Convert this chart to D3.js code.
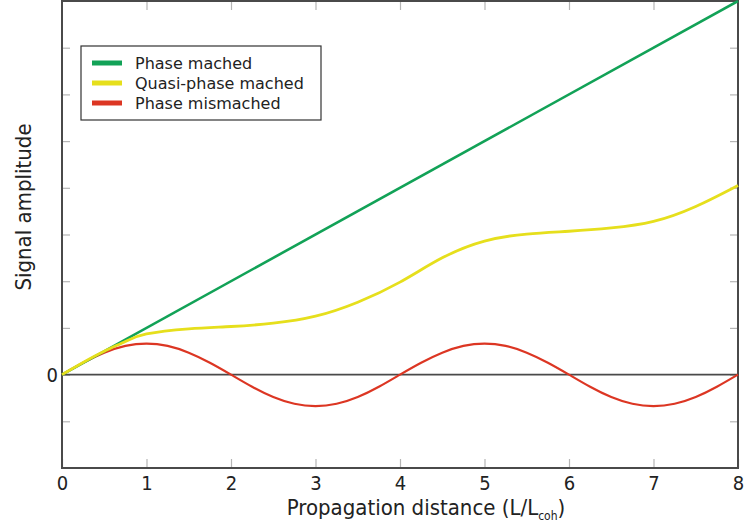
<!DOCTYPE html>
<html>
<head>
<meta charset="utf-8">
<script src="https://cdn.jsdelivr.net/npm/d3@7"></script>
<style>
  html, body { margin: 0; padding: 0; background: #fff; }
  svg { display: block; }
</style>
</head>
<body>
<svg id="chart" width="746" height="528"></svg>
<script>
// ---- data ----
const xTicks = [0, 1, 2, 3, 4, 5, 6, 7, 8];
const yTicks = [-1, 0, 1, 2, 3, 4, 5, 6, 7];
const yTickLabels = ["", "0", "", "", "", "", "", "", ""];
const seriesNames = ["Phase mached", "Quasi-phase mached", "Phase mismached"];

const greenX = [0, 8];
const greenY = [0, 8];

const yellowX = [0, 0.25, 0.5, 0.75, 1, 1.5, 2, 2.5, 3, 3.5, 4, 4.5, 5, 5.5, 6, 6.5, 7, 7.5, 8];
const yellowY = [0, 0.26, 0.5, 0.71, 0.87, 0.98, 1.03, 1.1, 1.25, 1.55, 1.98, 2.5, 2.86, 3.01, 3.07, 3.14, 3.28, 3.6, 4.05];

const redX = [0, 0.25, 0.5, 0.75, 1, 1.25, 1.5, 1.75, 2, 2.25, 2.5, 2.75, 3, 3.25, 3.5, 3.75, 4,
              4.25, 4.5, 4.75, 5, 5.25, 5.5, 5.75, 6, 6.25, 6.5, 6.75, 7, 7.25, 7.5, 7.75, 8];
const redY = [0, 0.255, 0.47, 0.615, 0.665, 0.615, 0.47, 0.255, 0, -0.26, -0.48, -0.625, -0.675, -0.625, -0.48, -0.26, 0,
              0.255, 0.47, 0.615, 0.665, 0.615, 0.47, 0.255, 0, -0.26, -0.48, -0.625, -0.675, -0.625, -0.48, -0.26, 0];

const colors = ["#12a257", "#e6df1c", "#dc3623"];

// ---- layout ----
const svg = d3.select("#chart");
const L = 62, R = 738, T = 1, B = 468;
const x = d3.scaleLinear().domain([0, 8]).range([L, R]);
const y = d3.scaleLinear().domain([-2, 8]).range([B, T]);
const condensed = '"DejaVu Sans Condensed", "DejaVu Sans", sans-serif';
const regular = '"DejaVu Sans", sans-serif';

// ticks (inward, light grey)
const tickCol = "#b5b5b5";
const gx = svg.append("g").attr("transform", `translate(0,${B})`)
  .call(d3.axisBottom(x).tickValues(xTicks).tickSizeInner(-9).tickSizeOuter(0).tickPadding(8).tickFormat(d3.format("d")));
gx.select(".domain").remove();
gx.selectAll(".tick line").attr("stroke", tickCol).attr("stroke-width", 1.2);
gx.selectAll(".tick text").style("font-size", "20px").style("fill", "#222").style("font-family", condensed);

const gxt = svg.append("g").attr("transform", `translate(0,${T})`)
  .call(d3.axisTop(x).tickValues(xTicks.slice(1, -1)).tickSizeInner(-9).tickSizeOuter(0).tickFormat(""));
gxt.select(".domain").remove();
gxt.selectAll(".tick line").attr("stroke", tickCol).attr("stroke-width", 1.2);

const gy = svg.append("g").attr("transform", `translate(${L},0)`)
  .call(d3.axisLeft(y).tickValues(yTicks).tickSizeInner(-8).tickSizeOuter(0).tickPadding(4)
    .tickFormat((d, i) => yTickLabels[i]));
gy.select(".domain").remove();
gy.selectAll(".tick line").attr("stroke", tickCol).attr("stroke-width", 1.2);
gy.selectAll(".tick text").style("font-size", "20px").style("fill", "#222").style("font-family", condensed);

const gyr = svg.append("g").attr("transform", `translate(${R},0)`)
  .call(d3.axisRight(y).tickValues(yTicks).tickSizeInner(-8).tickSizeOuter(0).tickFormat(""));
gyr.select(".domain").remove();
gyr.selectAll(".tick line").attr("stroke", tickCol).attr("stroke-width", 1.2);

// zero line
svg.append("line").attr("x1", x(0)).attr("x2", x(8)).attr("y1", y(0)).attr("y2", y(0))
  .attr("stroke", "#4a4a4a").attr("stroke-width", 1.6);

// frame
svg.append("rect").attr("x", L).attr("y", T).attr("width", R - L).attr("height", B - T)
  .attr("fill", "none").attr("stroke", "#4a4a4a").attr("stroke-width", 2);

// curves
const line = d3.line().x(d => x(d[0])).y(d => y(d[1])).curve(d3.curveNatural);
const plot = svg.append("g");
plot.append("path").datum(redX.map((v, i) => [v, redY[i]]))
  .attr("d", line).attr("fill", "none").attr("stroke", colors[2]).attr("stroke-width", 2.2);
plot.append("path").datum(greenX.map((v, i) => [v, greenY[i]]))
  .attr("d", line).attr("fill", "none").attr("stroke", colors[0]).attr("stroke-width", 2.6);
plot.append("path").datum(yellowX.map((v, i) => [v, yellowY[i]]))
  .attr("d", line).attr("fill", "none").attr("stroke", colors[1]).attr("stroke-width", 2.8);

// legend
const lg = svg.append("g");
lg.append("rect").attr("x", 81).attr("y", 46).attr("width", 240).attr("height", 74)
  .attr("fill", "#fff").attr("stroke", "#333").attr("stroke-width", 1.2);
seriesNames.forEach((name, i) => {
  const cy = 63 + i * 20;
  lg.append("line").attr("x1", 92).attr("x2", 122).attr("y1", cy).attr("y2", cy)
    .attr("stroke", colors[i]).attr("stroke-width", 5);
  lg.append("text").attr("x", 135).attr("y", cy).attr("dy", "0.35em")
    .style("font-size", "16px").style("fill", "#222").style("font-family", regular).text(name);
});

// axis titles
const xt = svg.append("text").attr("x", 426).attr("y", 515).attr("text-anchor", "middle")
  .style("font-size", "22px").style("fill", "#222").style("font-family", condensed);
xt.append("tspan").text("Propagation distance (L/L");
xt.append("tspan").style("font-size", "12px").attr("dy", 5).text("coh");
xt.append("tspan").attr("dy", -5).text(")");

svg.append("text").attr("transform", "translate(31,207) rotate(-90)")
  .attr("text-anchor", "middle").style("font-size", "22px").style("fill", "#222")
  .style("font-family", condensed).text("Signal amplitude");
</script>
</body>
</html>
